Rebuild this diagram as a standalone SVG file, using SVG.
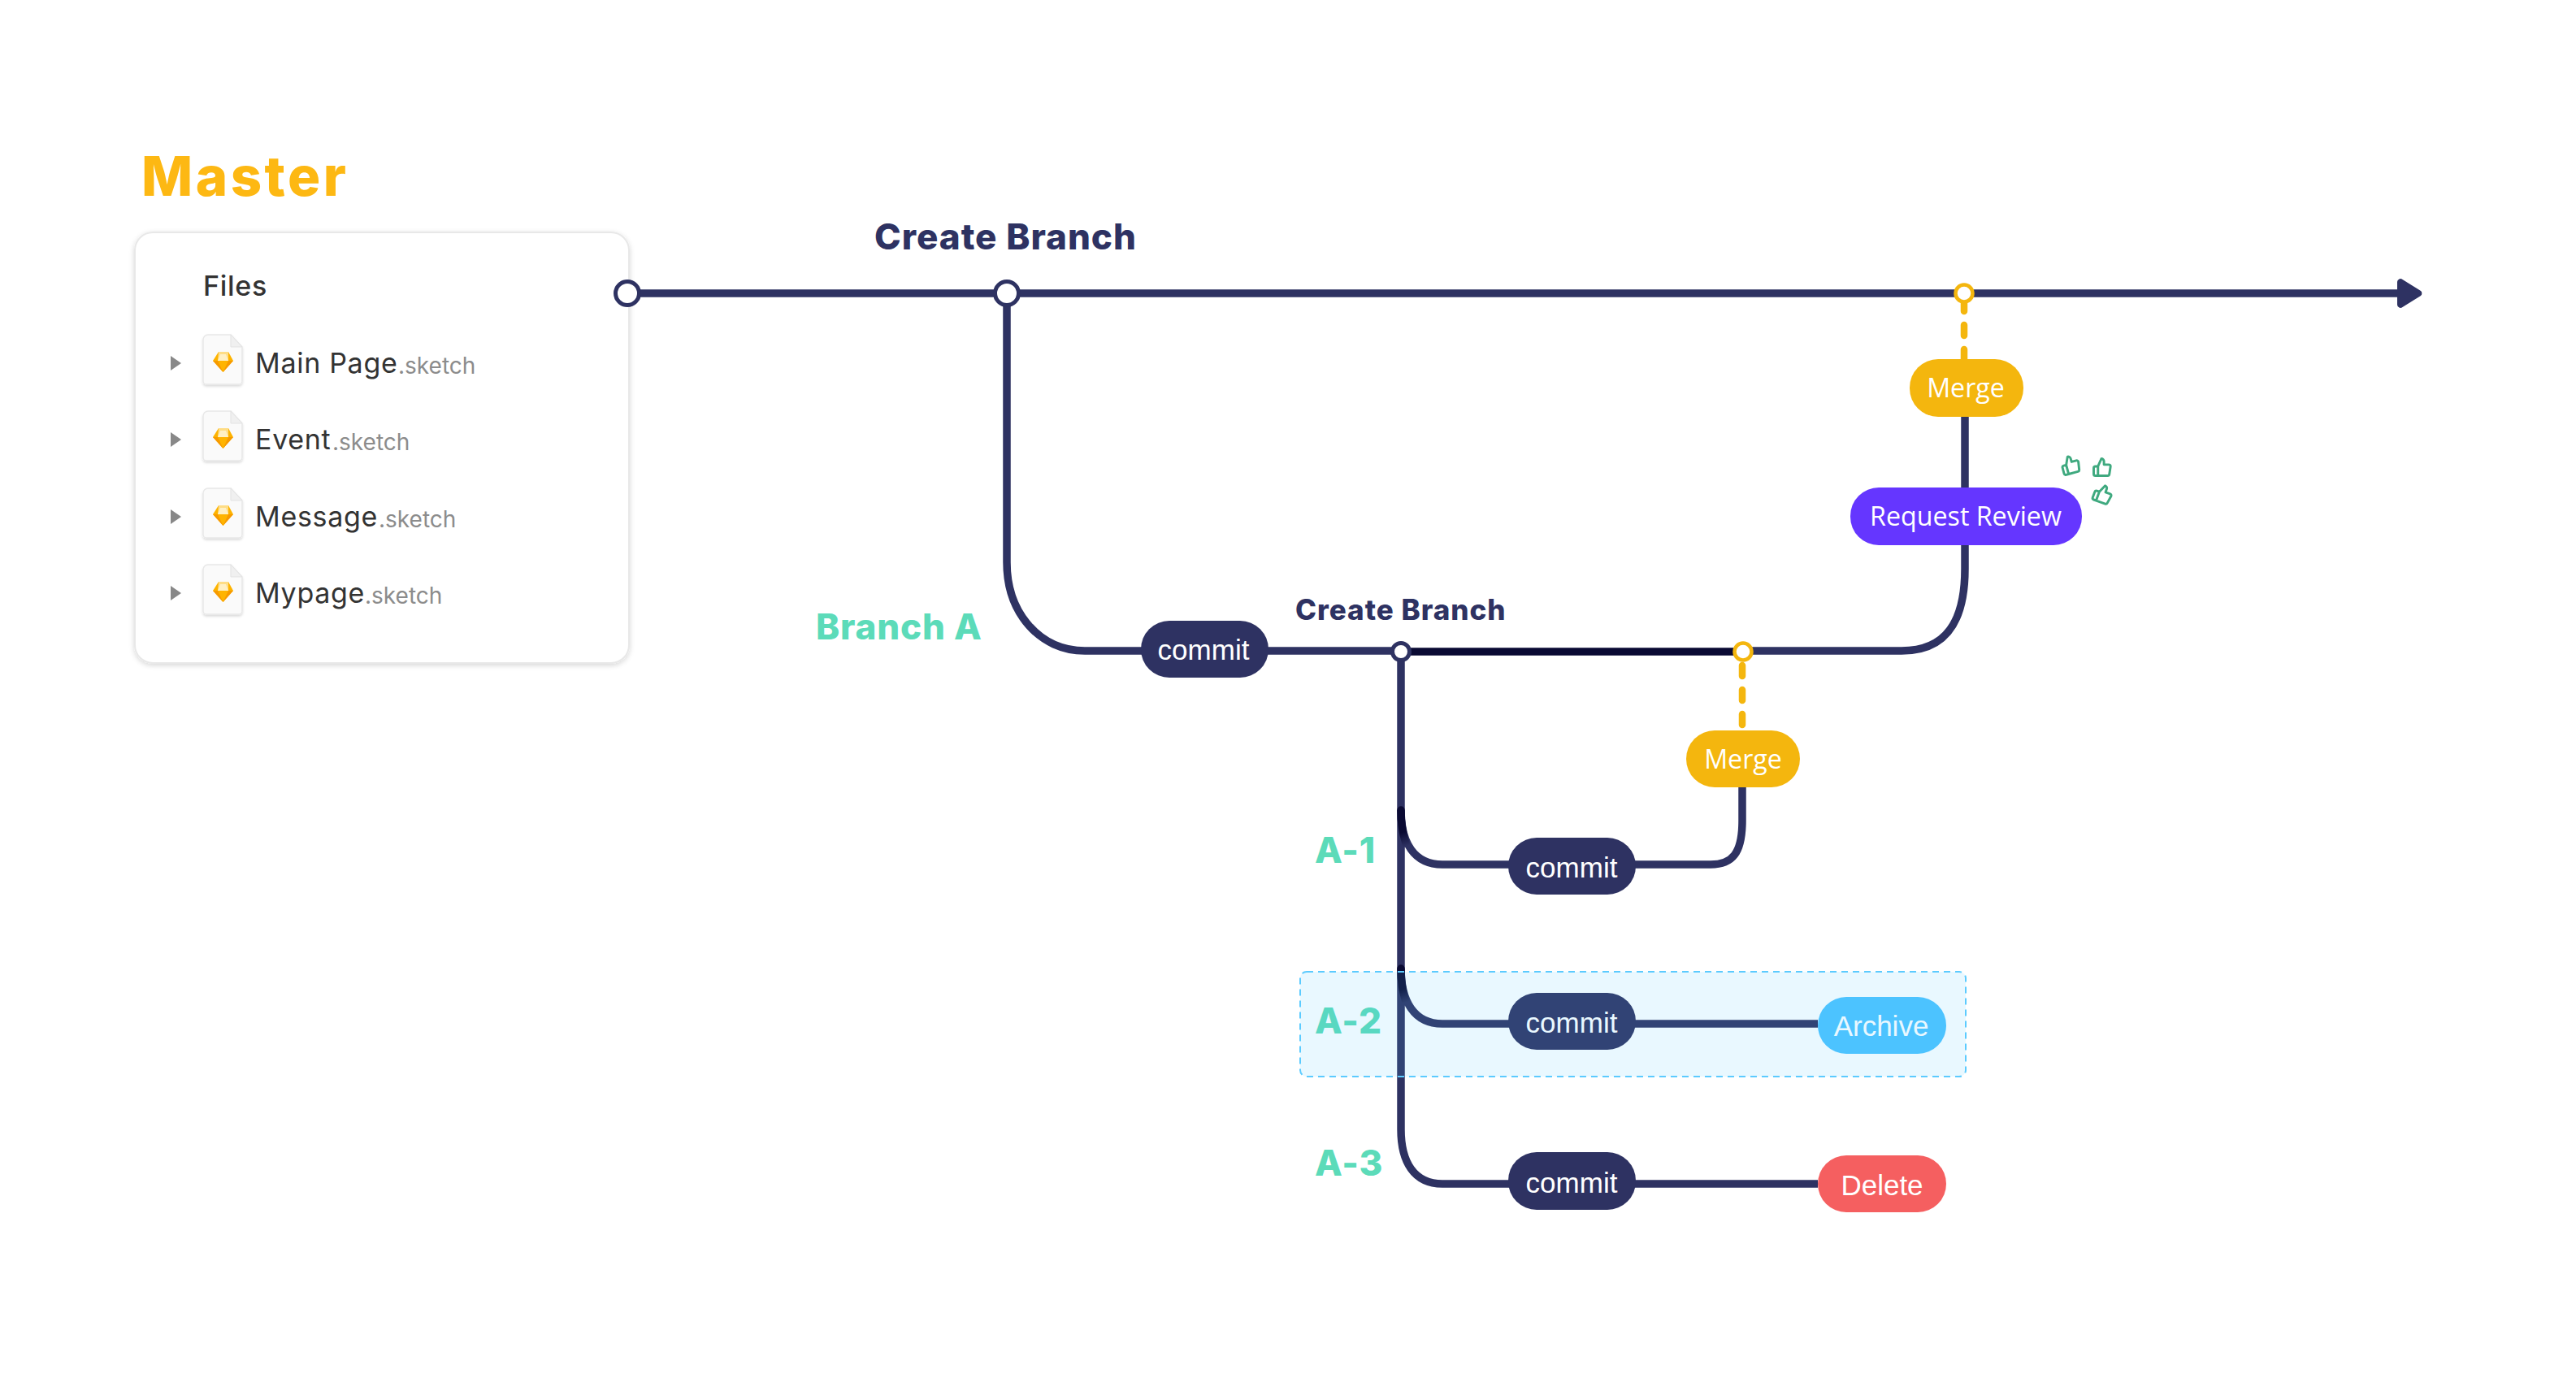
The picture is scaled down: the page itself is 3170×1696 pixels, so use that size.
<svg xmlns="http://www.w3.org/2000/svg" xmlns:xlink="http://www.w3.org/1999/xlink" width="3170" height="1696" viewBox="0 0 3170 1696">
<style>
.line{fill:none;stroke:#2E3262;stroke-width:9.5}
.dark{fill:none;stroke-width:9.5;stroke-linecap:round}
.dash{fill:none;stroke:#F4B60E;stroke-width:8.5;stroke-linecap:round;stroke-dasharray:13 17}
.hub{fill:#fff;stroke:#2E3262;stroke-width:5}
.hubY{fill:#fff;stroke:#F4B60E;stroke-width:4.5}
.pill{font-family:"Liberation Sans",Arial,sans-serif;font-size:35px;fill:#fff;text-anchor:middle}
.pillO{font-family:"Open Sans","Noto Sans",sans-serif;font-size:32.2px;fill:#fff;text-anchor:middle}
.head{font-family:Inter,"Liberation Sans",sans-serif;font-weight:800;fill:#2E3262;letter-spacing:1px}
.teal{font-family:Inter,"Liberation Sans",sans-serif;font-weight:800;font-size:44px;fill:#5CDBB9;letter-spacing:.8px}
.row{font-family:Inter,"Liberation Sans",sans-serif;font-size:34px;fill:#333;letter-spacing:.7px}
.ext{font-family:Inter,"Liberation Sans",sans-serif;font-size:28px;fill:#8C8C8C}
.tri{fill:#888}
.thumb{fill:none;stroke:#3FA97F;stroke-width:2.8;stroke-linejoin:round}
</style>
<defs>
<filter id="soft" x="-5%" y="-5%" width="110%" height="110%"><feDropShadow dx="0" dy="2" stdDeviation="3" flood-color="#000" flood-opacity=".16"/></filter>
<filter id="softS" x="-15%" y="-15%" width="130%" height="130%"><feDropShadow dx="0" dy="2" stdDeviation="1.5" flood-color="#000" flood-opacity=".14"/></filter>
<linearGradient id="fadeA1" gradientUnits="userSpaceOnUse" x1="1724" y1="997" x2="1736" y2="1040"><stop offset="0" stop-color="#0A0A33"/><stop offset=".6" stop-color="#0A0A33"/><stop offset="1" stop-color="#2E3262"/></linearGradient>
<linearGradient id="fadeA2" gradientUnits="userSpaceOnUse" x1="1724" y1="1192" x2="1736" y2="1232"><stop offset="0" stop-color="#0A0A33"/><stop offset=".6" stop-color="#0A0A33"/><stop offset="1" stop-color="#2E3262"/></linearGradient>
<g id="file">
<path d="M6 0H34L48 15V57a4 4 0 0 1-4 4H4a4 4 0 0 1-4-4V6a6 6 0 0 1 6-6Z" fill="#FAFAFA" stroke="#E8E8E8" stroke-width="1.5" filter="url(#softS)"/>
<path d="M34 0V15H48Z" fill="#F0F0F0" stroke="#E3E3E3" stroke-width="1"/>
<path d="M12 32L19 21H31L37 32L24.500 46Z" fill="#FDB300"/>
<path d="M12 32H37L24.500 46Z" fill="#F79A00"/>
<path d="M18 32H31L24.500 46Z" fill="#FFB400"/>
<path d="M19 21H31L31 32H18Z" fill="#FEDD86"/>
<path d="M21 24H28L31 32H18Z" fill="#FFF0C4"/>
</g>
<path id="thumbIcon" d="M14 9V5a3 3 0 0 0-3-3l-4 9v11h11.3a2 2 0 0 0 2-1.700l1.400-9a2 2 0 0 0-2-2.300zM7 22H4a2 2 0 0 1-2-2v-7a2 2 0 0 1 2-2h3Z"/>
</defs>
<rect width="3170" height="1696" fill="#fff"/>

<text id="title-master" x="174" y="241" font-family="Inter,'Liberation Sans',sans-serif" font-weight="800" font-size="67" letter-spacing="3.500" fill="#FDB813">Master</text>

<g id="node-files">
<rect x="166" y="286" width="608" height="530" rx="22" fill="#fff" stroke="#E8E8E8" stroke-width="2" filter="url(#soft)"/>
<text class="row" x="250" y="364" font-weight="500">Files</text>
<g id="file-main-page"><path class="tri" d="M210 438L223 447L210 456Z"/><use href="#file" x="250" y="412"/><text class="row" x="314" y="459">Main Page</text><text class="ext" x="490" y="460">.sketch</text></g>
<g id="file-event"><path class="tri" d="M210 532L223 541L210 550Z"/><use href="#file" x="250" y="506"/><text class="row" x="314" y="553">Event</text><text class="ext" x="409" y="554">.sketch</text></g>
<g id="file-message"><path class="tri" d="M210 627L223 636L210 645Z"/><use href="#file" x="250" y="601"/><text class="row" x="314" y="648">Message</text><text class="ext" x="466" y="649">.sketch</text></g>
<g id="file-mypage"><path class="tri" d="M210 721L223 730L210 739Z"/><use href="#file" x="250" y="695"/><text class="row" x="314" y="742">Mypage</text><text class="ext" x="449" y="743">.sketch</text></g>
</g>

<g id="connectors">
<path class="line" d="M772 361H2955"/>
<path d="M2950 347a4 4 0 0 1 6.500-3L2979 358a4 4 0 0 1 0 6L2956.500 378a4 4 0 0 1-6.500-3Z" fill="#2E3262"/>
<path class="line" d="M1239 361V692C1239 755 1280 801 1335 801H1724"/>
<path class="line" d="M2145 801H2340C2395 801 2418 765 2418 700V443"/>
<path class="dark" stroke="#0A0A33" d="M1724 802H2145"/>
<path class="line" d="M1724 802V1390C1724 1430 1740 1457 1775 1457H2237"/>
<path class="line" d="M1724 997C1724 1037 1740 1064 1775 1064H2105C2132 1064 2144 1050 2144 1010V969"/>
<path class="line" d="M1724 1192C1724 1232 1740 1260 1775 1260H2237"/>
<path class="dark" stroke="url(#fadeA1)" d="M1724 997C1724 1012 1726 1026 1730 1038"/>
<path class="dark" stroke="url(#fadeA2)" d="M1724 1192C1724 1207 1726 1221 1730 1233"/>
<path class="dash" d="M2417 370V443"/>
<path class="dash" d="M2144 819V897"/>
</g>

<g id="node-start"><circle class="hub" cx="772" cy="361" r="14.500"/></g>
<g id="node-branch-a-origin"><circle class="hub" cx="1239" cy="361" r="14.500"/><text class="head" x="1076" y="307" font-size="44">Create Branch</text></g>
<g id="label-branch-a"><text class="teal" x="1004" y="787">Branch A</text></g>
<g id="node-commit-a"><rect x="1404" y="764" width="157" height="70" rx="35" fill="#2E3262"/><text class="pill" x="1481" y="812">commit</text></g>
<g id="node-create-branch-2"><circle class="hub" cx="1724" cy="802" r="10.500"/><text class="head" x="1594" y="763" font-size="35">Create Branch</text></g>
<g id="node-merge-dot-1"><circle class="hubY" cx="2145" cy="802" r="10.500"/></g>
<g id="node-merge-dot-2"><circle class="hubY" cx="2417" cy="361" r="10.500"/></g>
<g id="node-merge-main"><rect x="2350" y="442" width="140" height="71" rx="35" fill="#F4B60E"/><text class="pillO" x="2419" y="489">Merge</text></g>
<g id="node-request-review"><rect x="2277" y="600" width="285" height="71" rx="35" fill="#6536FF"/><text class="pillO" x="2419" y="647">Request Review</text></g>
<g id="thumbs">
<use class="thumb" href="#thumbIcon" transform="translate(2548 572) rotate(-15) scale(1.05) translate(-12 -12)"/>
<use class="thumb" href="#thumbIcon" transform="translate(2587 575) scale(1.05) translate(-12 -12)"/>
<use class="thumb" href="#thumbIcon" transform="translate(2588 608) rotate(20) scale(1.05) translate(-12 -12)"/>
</g>
<g id="node-merge-a"><rect x="2075" y="899" width="140" height="70" rx="35" fill="#F4B60E"/><text class="pillO" x="2145" y="946">Merge</text></g>
<g id="node-a1"><text class="teal" x="1618" y="1062">A-1</text><rect x="1856" y="1031" width="157" height="70" rx="35" fill="#2E3262"/><text class="pill" x="1934" y="1080">commit</text></g>
<g id="node-a2"><text class="teal" x="1618" y="1272">A-2</text><rect x="1856" y="1222" width="157" height="70" rx="35" fill="#2E3262"/><text class="pill" x="1934" y="1271">commit</text><rect x="2237" y="1227" width="158" height="70" rx="35" fill="#4DC3FF"/><text class="pill" x="2315" y="1275">Archive</text></g>
<g id="node-a3"><text class="teal" x="1618" y="1447">A-3</text><rect x="1856" y="1418" width="157" height="71" rx="35" fill="#2E3262"/><text class="pill" x="1934" y="1468">commit</text><rect x="2237" y="1422" width="158" height="70" rx="35" fill="#F55F60"/><text class="pill" x="2316" y="1471">Delete</text></g>
<g id="highlight-a2"><rect x="1600" y="1196" width="819" height="129" rx="8" fill="#4DC3FF" fill-opacity=".12" stroke="#5CCBFF" stroke-width="2" stroke-dasharray="8 6"/></g>
</svg>
